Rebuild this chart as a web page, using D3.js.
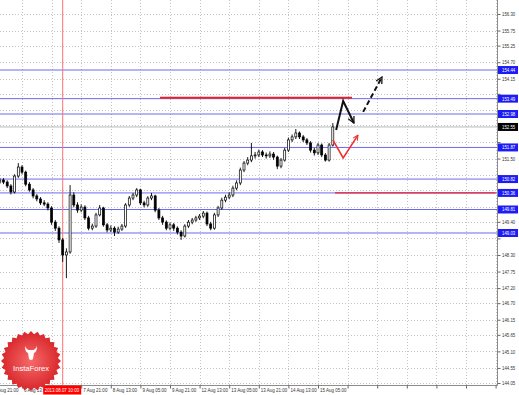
<!DOCTYPE html>
<html>
<head>
<meta charset="utf-8">
<script src="https://cdn.jsdelivr.net/npm/d3@7"></script>
<style>
body { margin: 0; background: #fff; }
svg text { font-family: "Liberation Sans", "DejaVu Sans", sans-serif; }
</style>
</head>
<body>
<svg id="chart" width="519" height="395"></svg>
<script>
// right axis tick labels
let priceTicks = [156.30, 155.75, 155.25, 154.70, 154.15, 153.65, 153.10, 152.60, 152.05, 151.50,
	150.95, 150.45, 149.90, 149.40, 148.85, 148.30, 147.75, 147.20, 146.70, 146.15,
	145.65, 145.10, 144.55, 144.05];

// time axis labels (one every 8 bars)
let timeLabels = ["5 Aug 21:00", "6 Aug 13:00", "7 Aug 05:00", "7 Aug 21:00", "8 Aug 13:00", "9 Aug 05:00",
	"9 Aug 21:00", "12 Aug 13:00", "13 Aug 05:00", "13 Aug 21:00", "14 Aug 13:00", "15 Aug 05:00"];
let markedTime = "2013.08.07 10:00";
let markedBar = 19;

// bars start at index 2, open = previous close
let firstBar = 2;
let firstOpen = 150.72;
let closes = [150.79, 150.72, 150.59, 150.39, 150.92, 151.22, 151.05, 150.65, 150.46, 150.26,
	150.16, 150.03, 149.99, 149.86, 149.39, 149.19, 148.80, 148.30, 148.40, 150.29,
	149.96, 149.79, 149.89, 149.53, 149.19, 149.26, 149.63, 149.86, 149.30, 149.13,
	149.19, 149.06, 149.16, 149.26, 149.96, 150.19, 150.29, 150.46, 150.03, 149.96,
	150.19, 150.26, 149.79, 149.53, 149.39, 149.19, 149.30, 149.19, 149.06, 148.93,
	149.26, 149.39, 149.46, 149.53, 149.59, 149.69, 149.33, 149.19, 149.63, 149.86,
	150.12, 150.22, 150.29, 150.52, 150.69, 151.12, 151.35, 151.45, 151.59, 151.62,
	151.72, 151.62, 151.59, 151.65, 151.55, 151.25, 151.45, 151.78, 152.12, 152.22,
	152.35, 152.22, 152.12, 152.02, 151.78, 151.69, 151.95, 151.62, 151.45, 151.95,
	152.55];
let highs = [150.86, 150.85, 150.78, 150.65, 150.98, 151.35, 151.28, 151.10, 150.72, 150.52,
	150.32, 150.22, 150.12, 150.05, 149.92, 149.46, 149.25, 148.86, 148.52, 150.62,
	150.38, 150.05, 149.98, 149.95, 149.60, 149.34, 149.70, 149.96, 149.90, 149.36,
	149.28, 149.25, 149.24, 149.33, 150.02, 150.26, 150.36, 150.52, 150.50, 150.10,
	150.25, 150.36, 150.30, 149.86, 149.60, 149.45, 149.38, 149.36, 149.25, 149.12,
	149.32, 149.46, 149.53, 149.60, 149.66, 149.76, 149.74, 149.40, 149.70, 149.93,
	150.20, 150.30, 150.38, 150.60, 150.78, 151.20, 151.42, 151.55, 152.02, 151.72,
	151.80, 151.78, 151.70, 151.74, 151.72, 151.60, 151.52, 151.85, 152.20, 152.30,
	152.48, 152.40, 152.28, 152.18, 152.08, 151.85, 152.02, 152.00, 151.68, 152.02,
	152.68];
let lows = [150.66, 150.65, 150.52, 150.31, 150.34, 150.86, 150.98, 150.58, 150.40, 150.18,
	150.08, 149.96, 149.92, 149.78, 149.30, 149.10, 148.70, 148.07, 147.53, 148.34,
	149.88, 149.70, 149.72, 149.46, 149.12, 149.12, 149.20, 149.58, 149.24, 149.05,
	149.06, 148.93, 149.00, 149.10, 149.20, 149.90, 150.12, 150.22, 149.96, 149.88,
	149.90, 150.12, 149.72, 149.46, 149.30, 149.12, 149.12, 149.10, 148.98, 148.80,
	148.88, 149.20, 149.32, 149.40, 149.46, 149.52, 149.26, 149.12, 149.14, 149.56,
	149.80, 150.05, 150.15, 150.22, 150.45, 150.62, 151.05, 151.28, 151.38, 151.50,
	151.55, 151.55, 151.50, 151.52, 151.46, 151.15, 151.18, 151.40, 151.72, 152.05,
	152.15, 152.15, 152.05, 151.95, 151.70, 151.60, 151.62, 151.55, 151.40, 151.40,
	151.90];

// horizontal levels
let levels = [154.44, 153.49, 152.98, 151.87, 150.82, 150.36, 149.81, 149.03];
let currentPrice = 152.55;
let resistance = {price: 153.52, from: 45.3, to: 97.2};
let support = {price: 150.36, from: 92.6, to: 136};

// forecast arrows as [bar, price]
let blackPath = [[92.9, 152.45], [94.8, 153.41], [97.7, 152.68]];
let blackDashed = [[100.2, 153.05], [105.3, 154.21]];
let redPath = [[92.0, 152.12], [94.8, 151.52], [98.8, 152.28]];

let svg = d3.select("#chart");
let plotRight = 497.5;
let plotBottom = 385.5;
let charW = 2.2; // squeezed label glyph width

let x = d3.scaleLinear().domain([0, 136]).range([-7.6, 495.6]);
let y = d3.scaleLinear().domain([144.05, 156.30]).range([383, 14]);

function squeeze(sel, w) {
	sel.each(function () {
		let t = d3.select(this).text();
		if (t) d3.select(this).attr("textLength", t.length * (w || charW)).attr("lengthAdjust", "spacingAndGlyphs");
	});
}

// clip for plot area
let defs = svg.append("defs");
defs.append("clipPath").attr("id", "plot")
	.append("rect").attr("x", 0).attr("y", 0).attr("width", plotRight).attr("height", plotBottom);

let plot = svg.append("g").attr("clip-path", "url(#plot)");

// grid
let gridX = d3.range(0, 137, 8);
plot.selectAll(".gx").data(gridX).enter().append("line")
	.attr("x1", d => Math.round(x(d)) + 0.5).attr("x2", d => Math.round(x(d)) + 0.5)
	.attr("y1", 0).attr("y2", plotBottom)
	.attr("stroke", "#c4c4c4").attr("stroke-width", 1).attr("stroke-dasharray", "1,2");
plot.selectAll(".gy").data(priceTicks).enter().append("line")
	.attr("x1", 0).attr("x2", plotRight)
	.attr("y1", d => Math.round(y(d)) + 0.5).attr("y2", d => Math.round(y(d)) + 0.5)
	.attr("stroke", "#c4c4c4").attr("stroke-width", 1).attr("stroke-dasharray", "1,2");

// current price line
plot.append("line")
	.attr("x1", 0).attr("x2", plotRight)
	.attr("y1", y(currentPrice)).attr("y2", y(currentPrice))
	.attr("stroke", "#b8b8b8").attr("stroke-width", 1);

// level lines
plot.selectAll(".lvl").data(levels).enter().append("line")
	.attr("x1", 0).attr("x2", plotRight)
	.attr("y1", d => y(d)).attr("y2", d => y(d))
	.attr("stroke", "#6a6af2").attr("stroke-width", 1);

// red marked time line
plot.append("line")
	.attr("x1", x(markedBar)).attr("x2", x(markedBar))
	.attr("y1", 0).attr("y2", plotBottom)
	.attr("stroke", "#ff7070").attr("stroke-width", 1);

// candles
let bars = closes.map((c, k) => ({
	i: firstBar + k,
	o: k === 0 ? firstOpen : closes[k - 1],
	c: c, h: highs[k], l: lows[k]
}));

plot.selectAll(".wick").data(bars).enter().append("line")
	.attr("x1", d => x(d.i)).attr("x2", d => x(d.i))
	.attr("y1", d => y(d.h)).attr("y2", d => y(d.l))
	.attr("stroke", "#000").attr("stroke-width", 0.9);

plot.selectAll(".body").data(bars).enter().append("rect")
	.attr("x", d => x(d.i) - 1)
	.attr("width", 2)
	.attr("y", d => y(Math.max(d.o, d.c)))
	.attr("height", d => Math.max(0.8, Math.abs(y(d.o) - y(d.c))))
	.attr("fill", d => d.c >= d.o ? "#fff" : "#000")
	.attr("stroke", "#000").attr("stroke-width", 0.7);

// red horizontal segments
plot.append("line")
	.attr("x1", x(resistance.from)).attr("x2", x(resistance.to))
	.attr("y1", y(resistance.price)).attr("y2", y(resistance.price))
	.attr("stroke", "#e8202a").attr("stroke-width", 2.2);
plot.append("line")
	.attr("x1", x(support.from)).attr("x2", x(support.to))
	.attr("y1", y(support.price)).attr("y2", y(support.price))
	.attr("stroke", "#e8202a").attr("stroke-width", 1.3);

// arrows
function marker(id, color) {
	defs.append("marker").attr("id", id)
		.attr("viewBox", "0 0 10 10").attr("refX", 9).attr("refY", 5)
		.attr("markerWidth", 4).attr("markerHeight", 4)
		.attr("orient", "auto").attr("markerUnits", "strokeWidth")
		.append("path").attr("d", "M1,1 L9,5 L1,9")
		.attr("fill", "none").attr("stroke", color).attr("stroke-width", 1.6);
}
marker("headBlack", "#111");
marker("headRed", "#f03030");

let arrowLine = d3.line().x(d => x(d[0])).y(d => y(d[1]));
plot.append("path").attr("d", arrowLine(blackPath))
	.attr("fill", "none").attr("stroke", "#111").attr("stroke-width", 2)
	.attr("marker-end", "url(#headBlack)");
plot.append("path").attr("d", arrowLine(blackDashed))
	.attr("fill", "none").attr("stroke", "#111").attr("stroke-width", 2)
	.attr("stroke-dasharray", "5,3")
	.attr("marker-end", "url(#headBlack)");
plot.append("path").attr("d", arrowLine(redPath))
	.attr("fill", "none").attr("stroke", "#f03030").attr("stroke-width", 1.6)
	.attr("marker-end", "url(#headRed)");

// plot border
svg.append("path")
	.attr("d", "M" + plotRight + ",0 V" + plotBottom + " H0")
	.attr("fill", "none").attr("stroke", "#8c8c8c").attr("stroke-width", 1);

// right axis, hiding tick labels that sit under a level tag
let tagged = levels.concat([currentPrice]);
let yAxis = d3.axisRight(y).tickValues(priceTicks).tickFormat(d3.format(".2f")).tickSize(3);
let gy = svg.append("g").attr("transform", "translate(" + plotRight + ",0)").call(yAxis);
gy.select(".domain").remove();
gy.selectAll("line").attr("stroke", "#666");
gy.selectAll("text").attr("font-size", 5.4).attr("fill", "#333").attr("x", 4.5)
	.filter(d => tagged.some(v => Math.abs(y(v) - y(d)) < 7)).remove();
squeeze(gy.selectAll("text"));

// level labels on the axis
function axisTag(value, color) {
	let g = svg.append("g").attr("transform", "translate(" + plotRight + "," + y(value) + ")");
	g.append("rect").attr("x", 0.5).attr("y", -4).attr("width", 20).attr("height", 8).attr("fill", color);
	let t = g.append("text").attr("x", 4.5).attr("y", 2).attr("font-size", 5.4).attr("fill", "#fff")
		.text(d3.format(".2f")(value));
	squeeze(t);
}
levels.forEach(v => axisTag(v, "#1c1cf5"));
axisTag(currentPrice, "#000");

// bottom axis, the label whose tick sits under the marked time tag is hidden
let xAxis = d3.axisBottom(x).tickValues(gridX).tickFormat((d, k) => timeLabels[k] || "").tickSize(3);
let gx = svg.append("g").attr("transform", "translate(0," + plotBottom + ")").call(xAxis);
gx.select(".domain").remove();
gx.selectAll("line").attr("stroke", "#666");
gx.selectAll("text").attr("font-size", 5.4).attr("fill", "#333")
	.attr("text-anchor", "start").attr("dx", 1.5).attr("y", 2.6).attr("dy", "0.71em")
	.filter(d => Math.abs(x(d) - x(markedBar)) < 15).remove();
squeeze(gx.selectAll("text"));

// marked time tag
let tag = svg.append("g").attr("transform", "translate(" + x(markedBar) + "," + plotBottom + ")");
tag.append("rect").attr("x", -19.5).attr("y", 0).attr("width", 38).attr("height", 9).attr("fill", "#f00");
squeeze(tag.append("text").attr("x", -18).attr("y", 6.4)
	.attr("font-size", 5.4).attr("fill", "#fff").text(markedTime), 2.15);

// InstaForex badge
let badge = svg.append("g").attr("transform", "translate(31,361)");
let grad = defs.append("radialGradient").attr("id", "badgeFill");
grad.append("stop").attr("offset", "0%").attr("stop-color", "#f76a6a");
grad.append("stop").attr("offset", "100%").attr("stop-color", "#d8262a");
let teeth = 28;
let star = d3.range(teeth * 2).map(k => {
	let a = k * Math.PI / teeth;
	let r = k % 2 === 0 ? 30 : 27;
	return [r * Math.sin(a), -r * Math.cos(a)];
});
badge.append("path").attr("d", d3.line()(star) + "Z").attr("fill", "url(#badgeFill)");
badge.append("path")
	.attr("d", "M-6,-15 Q-6,-9 -3,-8 L-2,-2 Q0,0 2,-2 L3,-8 Q6,-9 6,-15 Q4,-11 2,-11 L-2,-11 Q-4,-11 -6,-15Z")
	.attr("fill", "#fff");
badge.append("text").attr("x", 0).attr("y", 10).attr("text-anchor", "middle")
	.attr("font-size", 7.6).attr("fill", "#fff").text("InstaForex");
</script>
</body>
</html>
